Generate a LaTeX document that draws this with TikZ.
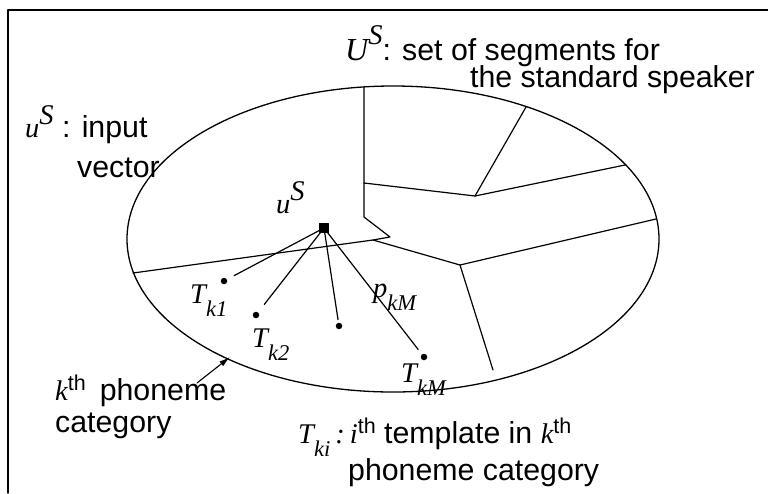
\documentclass[tikz,border=0pt]{standalone}
\usepackage{fontspec}
\setmainfont{Liberation Sans}
\newfontfamily\tms{Liberation Serif}
\usetikzlibrary{positioning, arrows.meta}

\newcommand{\tvar}[1]{{\tms\itshape\fontsize{28.5}{28.5}\selectfont #1}}
\newcommand{\tsub}[2]{\tvar{#1}\raisebox{-0.45em}{\tvar{\fontsize{22.5}{22.5}\selectfont #2}}}
\newcommand{\tsup}[2]{\tvar{#1}\raisebox{0.4em}{\tvar{#2}}}
\newcommand{\thsup}{\raisebox{0.3em}{\fontsize{21.5}{21.5}\selectfont th}}

\tikzset{
  lbl/.style={inner sep=0, anchor=base west, font=\fontsize{30.3}{31}\selectfont},
  dot/.style={circle, fill=black, inner sep=0, minimum size=6.5},
  seg/.style={line width=1.2}
}

\begin{document}
\begin{tikzpicture}[x=1pt, y=-1pt, line join=round, line cap=round]
    \useasboundingbox (0,0) rectangle (768,493);

    % Frame (top and left only)
    \draw[line width=1.4] (768,10) -- (8,10) -- (8,493);

    % Phoneme category
    \draw[line width=1.3] (393,239) ellipse [x radius=266, y radius=153];

    % Segment borders
    \coordinate (top) at (364,87);
    \coordinate (a) at (364,217);
    \coordinate (b) at (390,237);
    \coordinate (c) at (373,240);
    \coordinate (lft) at (133,273);
    \coordinate (d) at (460,265);
    \coordinate (bot) at (493,370);
    \coordinate (rgt) at (656,219);
    \coordinate (e) at (364,183);
    \coordinate (f) at (475,196);
    \coordinate (g) at (526,107);
    \coordinate (h) at (625,165);
    \draw[seg] (top) -- (a) -- (b) -- (c) -- (lft);
    \draw[seg] (c) -- (d) -- (bot);
    \draw[seg] (d) -- (rgt);
    \draw[seg] (e) -- (f) -- (g);
    \draw[seg] (f) -- (h);

    % Input vector and templates
    \node[draw, fill=black, inner sep=0, minimum size=9] (us) at (324,228) {};
    \node[dot] (t1) at (224,281) {};
    \node[dot] (t2) at (256,315) {};
    \node[dot] (t3) at (339,326) {};
    \node[dot] (tm) at (424,357) {};
    \draw[seg, shorten >=8pt] (us) -- (t1);
    \draw[seg, shorten >=10pt] (us) -- (t2);
    \draw[seg, shorten >=3pt] (us) -- (t3);
    \draw[seg, shorten >=6pt] (us) -- (tm);

    % Labels
    \node[lbl] (setlbl) at (345,60) {{\tms\itshape\fontsize{32}{32}\selectfont U}\raisebox{0.5em}{\tvar{S}}: set of segments for};
    \node[lbl] (setlbl2) at (470,87) {the standard speaker};
    \node[lbl] (inlbl) at (25,137) {\tsup{u}{S} : input};
    \node[lbl] (inlbl2) at (77,177) {vector};
    \node[lbl] (uslbl) at (276,213) {\tsup{u}{S}};
    \node[lbl] (t1lbl) at (190,303) {\tsub{T}{k1}};
    \node[lbl] (t2lbl) at (252,347) {\tsub{T}{k2}};
    \node[lbl] (pkm) at (373,297) {\tsub{p}{kM}};
    \node[lbl] (tmlbl) at (401,382) {\tsub{T}{kM}};
    \node[lbl] (catlbl) at (55,400) {\tvar{k}\thsup\hspace{14pt}phoneme};
    \node[lbl] (catlbl2) at (55,432) {category};
    \node[lbl] (tkilbl) at (298,443) {\tsub{T}{ki}\,\tvar{:}\,\tvar{i}\thsup\ template in \tvar{k}\thsup};
    \node[lbl] (tkilbl2) at (348,480) {phoneme category};

    % Arrow to the category border
    \coordinate (arrtail) at (197,383);
    \coordinate (arrtip) at (230,357);
    \draw[line width=1.1, -{Latex[length=11pt,width=6pt]}] (arrtail) -- (arrtip);
\end{tikzpicture}
\end{document}
